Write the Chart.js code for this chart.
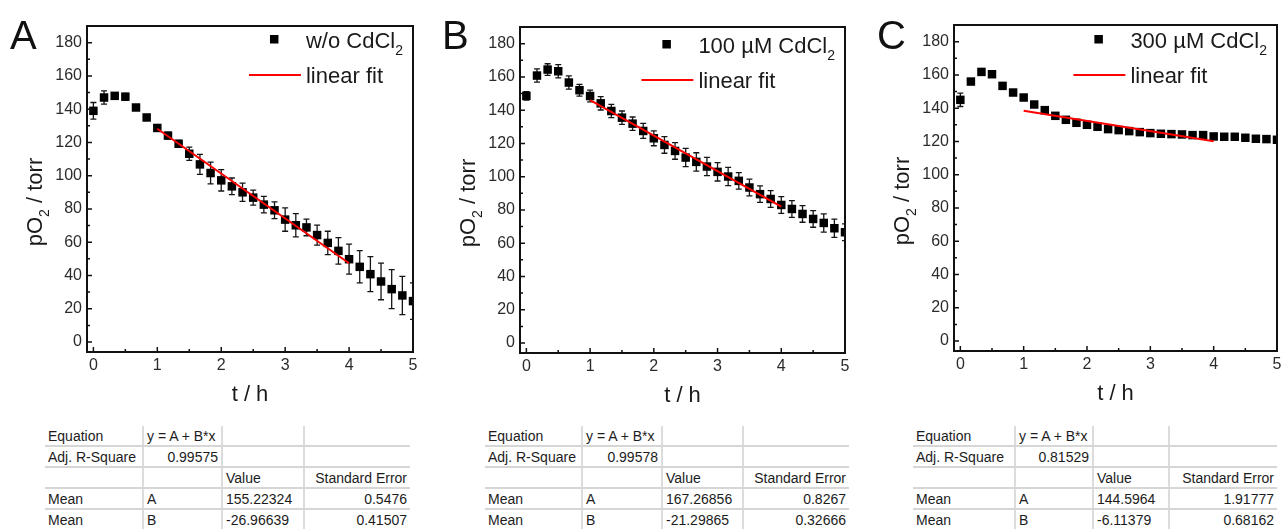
<!DOCTYPE html>
<html>
<head>
<meta charset="utf-8">
<script src="https://cdn.jsdelivr.net/npm/chart.js@4.4.1/dist/chart.umd.min.js"></script>
<style>
  html, body { margin: 0; padding: 0; background: #fff; }
  #page { position: relative; width: 1283px; height: 529px; overflow: hidden; font-family: "Liberation Sans", Arial, sans-serif; }
  canvas { position: absolute; top: 0; }
  .letter { position: absolute; top: 15px; font-size: 40px; line-height: 40px; color: #111; }
  table.fit { position: absolute; top: 426px; border-collapse: collapse; table-layout: fixed; font-size: 14px; color: #1c1c1c; }
  table.fit td { height: 19px; padding: 0 3px; border-bottom: 2px solid #d6d6d6; white-space: nowrap; overflow: hidden; }
  table.fit td + td { border-left: 2px solid #dcdcdc; }
  table.fit td.r { text-align: right; }
</style>
</head>
<body>
<div id="page"></div>
<script>
const FONT = '"Liberation Sans", Arial, sans-serif';

// sampling times, minutes after start
const tMin = [0, 10, 20, 30, 40, 50, 60, 70, 80, 90, 100, 110, 120, 130, 140, 150,
              160, 170, 180, 190, 200, 210, 220, 230, 240, 250, 260, 270, 280, 290, 300];

// pO2 (torr) mean and error per condition
const pO2Ctrl = [139, 147, 148, 147.5, 141, 135, 128.7, 124.1, 119.2, 113.2, 106.8, 101.6, 97.2, 93.6, 90, 86.8,
                 82.6, 79.2, 73.6, 70.2, 68.9, 64.3, 59.6, 54.8, 49.8, 45.2, 40.8, 36.4, 31.8, 28, 24.6];
const errCtrl = [5, 4, 2, 2, 1.5, 1.5, 1.5, 2, 2, 4, 6, 6.5, 6.4, 5, 5.5, 4.5,
                 5, 5, 7, 7, 5, 6, 7, 8, 9, 9.7, 10.5, 11, 11.7, 11.5, 11];
const pO2Cd100 = [148.6, 160.8, 164.4, 163.4, 156.6, 152, 148.5, 144.1, 139.5, 135.5, 131.9, 127.5, 123.1, 119.1, 115.5, 111.5,
                  108.9, 106.1, 102.9, 100.1, 97.5, 93.5, 89.5, 86.6, 83, 80.6, 77.6, 74.6, 72.2, 69, 66.6];
const errCd100 = [2.5, 4, 3.5, 4, 4, 3.5, 3.5, 4, 4, 4, 4, 4.5, 4.5, 5, 5, 5.5,
                  5.5, 5.5, 5.5, 5.5, 5, 5, 5, 5, 5, 5, 5, 5, 5.5, 5.5, 5];
const pO2Cd300 = [145, 156, 161.8, 160.4, 153.4, 149.4, 146.4, 142.2, 138.8, 135.4, 133, 131.2, 130, 128.8, 127.4, 126.8,
                  126.2, 125.6, 125, 124.6, 124.4, 124.2, 123.8, 123.8, 123, 122.8, 122.8, 122.2, 121.6, 121.4, 121];
const errCd300 = [4, 1.5, 1.5, 1.5, 1.5, 1.5, 1.5, 1.2, 1.2, 1.2, 1, 1, 1, 1, 1, 1,
                  1, 1, 1, 1, 1, 1, 1, 1, 1, 1, 1, 1, 1, 1, 1];

// linear fits y = A + B*x over 1 h .. 4 h
const fitRange = [1, 4];
const fitA = [155.22324, 167.26856, 144.5964];
const fitAErr = [0.5476, 0.8267, 1.91777];
const fitB = [-26.96639, -21.29865, -6.11379];
const fitBErr = [0.41507, 0.32666, 0.68162];
const adjR2 = [0.99575, 0.99578, 0.81529];

// axes
const xTicks = [0, 1, 2, 3, 4, 5];
const xMinor = [0.5, 1.5, 2.5, 3.5, 4.5];
const yTicks = [0, 20, 40, 60, 80, 100, 120, 140, 160, 180];
const yMinor = [10, 30, 50, 70, 90, 110, 130, 150, 170];

const letters = ['A', 'B', 'C'];
const seriesNames = ['w/o CdCl_2', '100 µM CdCl_2', '300 µM CdCl_2'];
const fitName = 'linear fit';
const xTitle = 't / h';
const yTitle = 'pO_2 / torr';

const seriesValues = [pO2Ctrl, pO2Cd100, pO2Cd300];
const seriesErrors = [errCtrl, errCd100, errCd300];

// panel geometry: canvas left/width, plot box [left, top, right, bottom], legend baseline
const panels = [
  { left: 0,   width: 430, box: [87, 26, 413, 352], legendY: 22, letterX: 10,  tableX: 45,  cols: [98, 79, 82, 106] },
  { left: 430, width: 430, box: [90, 27, 415, 353], legendY: 26, letterX: 442, tableX: 485, cols: [97, 80, 81, 106] },
  { left: 860, width: 423, box: [94, 25, 419, 351], legendY: 23, letterX: 877, tableX: 913, cols: [102, 78, 76, 108] }
];
const H = 415;

// text with "_x" meaning subscript x
function drawRich(ctx, text, x, y, size, align) {
  const parts = text.split(/_(\w)/);
  const sub = Math.round(size * 0.62);
  const widths = parts.map((p, k) => {
    ctx.font = `${k % 2 ? sub : size}px ${FONT}`;
    return ctx.measureText(p).width;
  });
  const total = widths.reduce((a, b) => a + b, 0);
  let cx = align === 'center' ? x - total / 2 : x;
  ctx.textAlign = 'left';
  ctx.textBaseline = 'alphabetic';
  parts.forEach((p, k) => {
    ctx.font = `${k % 2 ? sub : size}px ${FONT}`;
    ctx.fillText(p, cx, k % 2 ? y + size * 0.33 : y);
    cx += widths[k];
  });
  return total;
}

function richWidth(ctx, text, size) {
  const parts = text.split(/_(\w)/);
  const sub = Math.round(size * 0.62);
  return parts.reduce((w, p, k) => {
    ctx.font = `${k % 2 ? sub : size}px ${FONT}`;
    return w + ctx.measureText(p).width;
  }, 0);
}

const decor = {
  id: 'decor',
  beforeDatasetsDraw(chart, args, opts) {
    // error bars under the markers
    const { ctx, chartArea: a, scales: { x, y } } = chart;
    const pts = chart.data.datasets[0].data;
    ctx.save();
    ctx.beginPath();
    ctx.rect(a.left, a.top, a.width, a.height);
    ctx.clip();
    ctx.strokeStyle = '#151515';
    ctx.lineWidth = 1.3;
    pts.forEach((p, k) => {
      const e = opts.errors[k];
      const px = x.getPixelForValue(p.x);
      const top = y.getPixelForValue(p.y + e);
      const bot = y.getPixelForValue(p.y - e);
      ctx.beginPath();
      ctx.moveTo(px, top); ctx.lineTo(px, bot);
      ctx.moveTo(px - 3, top); ctx.lineTo(px + 3, top);
      ctx.moveTo(px - 3, bot); ctx.lineTo(px + 3, bot);
      ctx.stroke();
    });
    ctx.restore();
  },
  afterDraw(chart, args, opts) {
    const { ctx, chartArea: a, scales: { x, y } } = chart;
    ctx.save();
    ctx.strokeStyle = '#111';

    // inward tick marks
    ctx.lineWidth = 1.5;
    ctx.beginPath();
    xTicks.forEach(v => { const px = x.getPixelForValue(v); ctx.moveTo(px, a.bottom); ctx.lineTo(px, a.bottom - 5); });
    xMinor.forEach(v => { const px = x.getPixelForValue(v); ctx.moveTo(px, a.bottom); ctx.lineTo(px, a.bottom - 3); });
    yTicks.forEach(v => { const py = y.getPixelForValue(v); ctx.moveTo(a.left, py); ctx.lineTo(a.left + 5, py); });
    yMinor.forEach(v => { const py = y.getPixelForValue(v); ctx.moveTo(a.left, py); ctx.lineTo(a.left + 3, py); });
    ctx.stroke();

    // plot frame
    ctx.lineWidth = 2;
    ctx.strokeRect(a.left, a.top, a.width, a.height);

    // axis titles
    ctx.fillStyle = '#1a1a1a';
    drawRich(ctx, xTitle, (a.left + a.right) / 2, a.bottom + 49, 22, 'center');
    ctx.save();
    ctx.translate(a.left - 45, (a.top + a.bottom) / 2 + 13);
    ctx.rotate(-Math.PI / 2);
    drawRich(ctx, yTitle, 0, 0, 22, 'center');
    ctx.restore();

    // legend
    const base = a.top + opts.legendY;
    const tx = a.right - 10 - richWidth(ctx, opts.label, 22);
    ctx.fillStyle = '#000';
    ctx.fillRect(tx - 36, base - 13, 8.5, 8.5);
    ctx.fillStyle = '#1a1a1a';
    drawRich(ctx, opts.label, tx, base, 22, 'left');
    ctx.strokeStyle = '#ff0000';
    ctx.lineWidth = 2;
    ctx.beginPath();
    ctx.moveTo(tx - 57, base + 27);
    ctx.lineTo(tx - 5, base + 27);
    ctx.stroke();
    drawRich(ctx, fitName, tx, base + 35, 22, 'left');
    ctx.restore();
  }
};

function makePanel(i) {
  const p = panels[i];
  const page = document.getElementById('page');
  const canvas = document.createElement('canvas');
  canvas.width = p.width;
  canvas.height = H;
  canvas.style.left = p.left + 'px';
  page.appendChild(canvas);

  const points = tMin.map((m, k) => ({ x: m / 60, y: seriesValues[i][k] }));
  const fitLine = fitRange.map(t => ({ x: t, y: fitA[i] + fitB[i] * t }));
  const tickFont = { family: FONT, size: 16 };

  new Chart(canvas, {
    type: 'scatter',
    data: {
      datasets: [
        { data: points, pointStyle: 'rect', pointRadius: 6, backgroundColor: '#000', borderWidth: 0, order: 1 },
        { type: 'line', data: fitLine, borderColor: '#ff0000', borderWidth: 2, pointRadius: 0, fill: false, order: 0 }
      ]
    },
    options: {
      responsive: false,
      devicePixelRatio: 1,
      animation: false,
      events: [],
      layout: { padding: { left: 0, top: p.box[1], right: p.width - p.box[2], bottom: 0 } },
      plugins: {
        legend: { display: false },
        tooltip: { enabled: false },
        decor: { errors: seriesErrors[i], label: seriesNames[i], legendY: p.legendY }
      },
      scales: {
        x: {
          type: 'linear', min: -0.1, max: 5, bounds: 'data',
          grid: { display: false, drawTicks: false },
          border: { display: false },
          ticks: { autoSkip: false, maxRotation: 0, padding: 4, color: '#2b2b2b', font: tickFont, callback: v => String(v) },
          afterBuildTicks: s => { s.ticks = xTicks.map(v => ({ value: v })); },
          afterFit: s => { s.height = H - p.box[3]; s.paddingLeft = 0; s.paddingRight = 0; }
        },
        y: {
          type: 'linear', min: -6, max: 190, bounds: 'data',
          grid: { display: false, drawTicks: false },
          border: { display: false },
          ticks: { autoSkip: false, padding: 5, color: '#2b2b2b', font: tickFont, callback: v => String(v) },
          afterBuildTicks: s => { s.ticks = yTicks.map(v => ({ value: v })); },
          afterFit: s => { s.width = p.box[0]; s.paddingTop = 0; s.paddingBottom = 0; }
        }
      }
    },
    plugins: [decor]
  });

  const letter = document.createElement('div');
  letter.className = 'letter';
  letter.style.left = p.letterX + 'px';
  letter.textContent = letters[i];
  page.appendChild(letter);

  // fit parameter table
  const rows = [
    [['Equation'], ['y = A + B*x'], [''], ['']],
    [['Adj. R-Square'], [String(adjR2[i]), 'r'], [''], ['']],
    [[''], [''], ['Value'], ['Standard Error', 'r']],
    [['Mean'], ['A'], [String(fitA[i])], [String(fitAErr[i]), 'r']],
    [['Mean'], ['B'], [String(fitB[i])], [String(fitBErr[i]), 'r']]
  ];
  const table = document.createElement('table');
  table.className = 'fit';
  table.style.left = p.tableX + 'px';
  const cg = document.createElement('colgroup');
  p.cols.forEach(w => { const c = document.createElement('col'); c.style.width = w + 'px'; cg.appendChild(c); });
  table.appendChild(cg);
  rows.forEach(r => {
    const tr = document.createElement('tr');
    r.forEach(([txt, cls]) => {
      const td = document.createElement('td');
      td.textContent = txt;
      if (cls) td.className = cls;
      tr.appendChild(td);
    });
    table.appendChild(tr);
  });
  page.appendChild(table);
}

[0, 1, 2].forEach(makePanel);
</script>
</body>
</html>
